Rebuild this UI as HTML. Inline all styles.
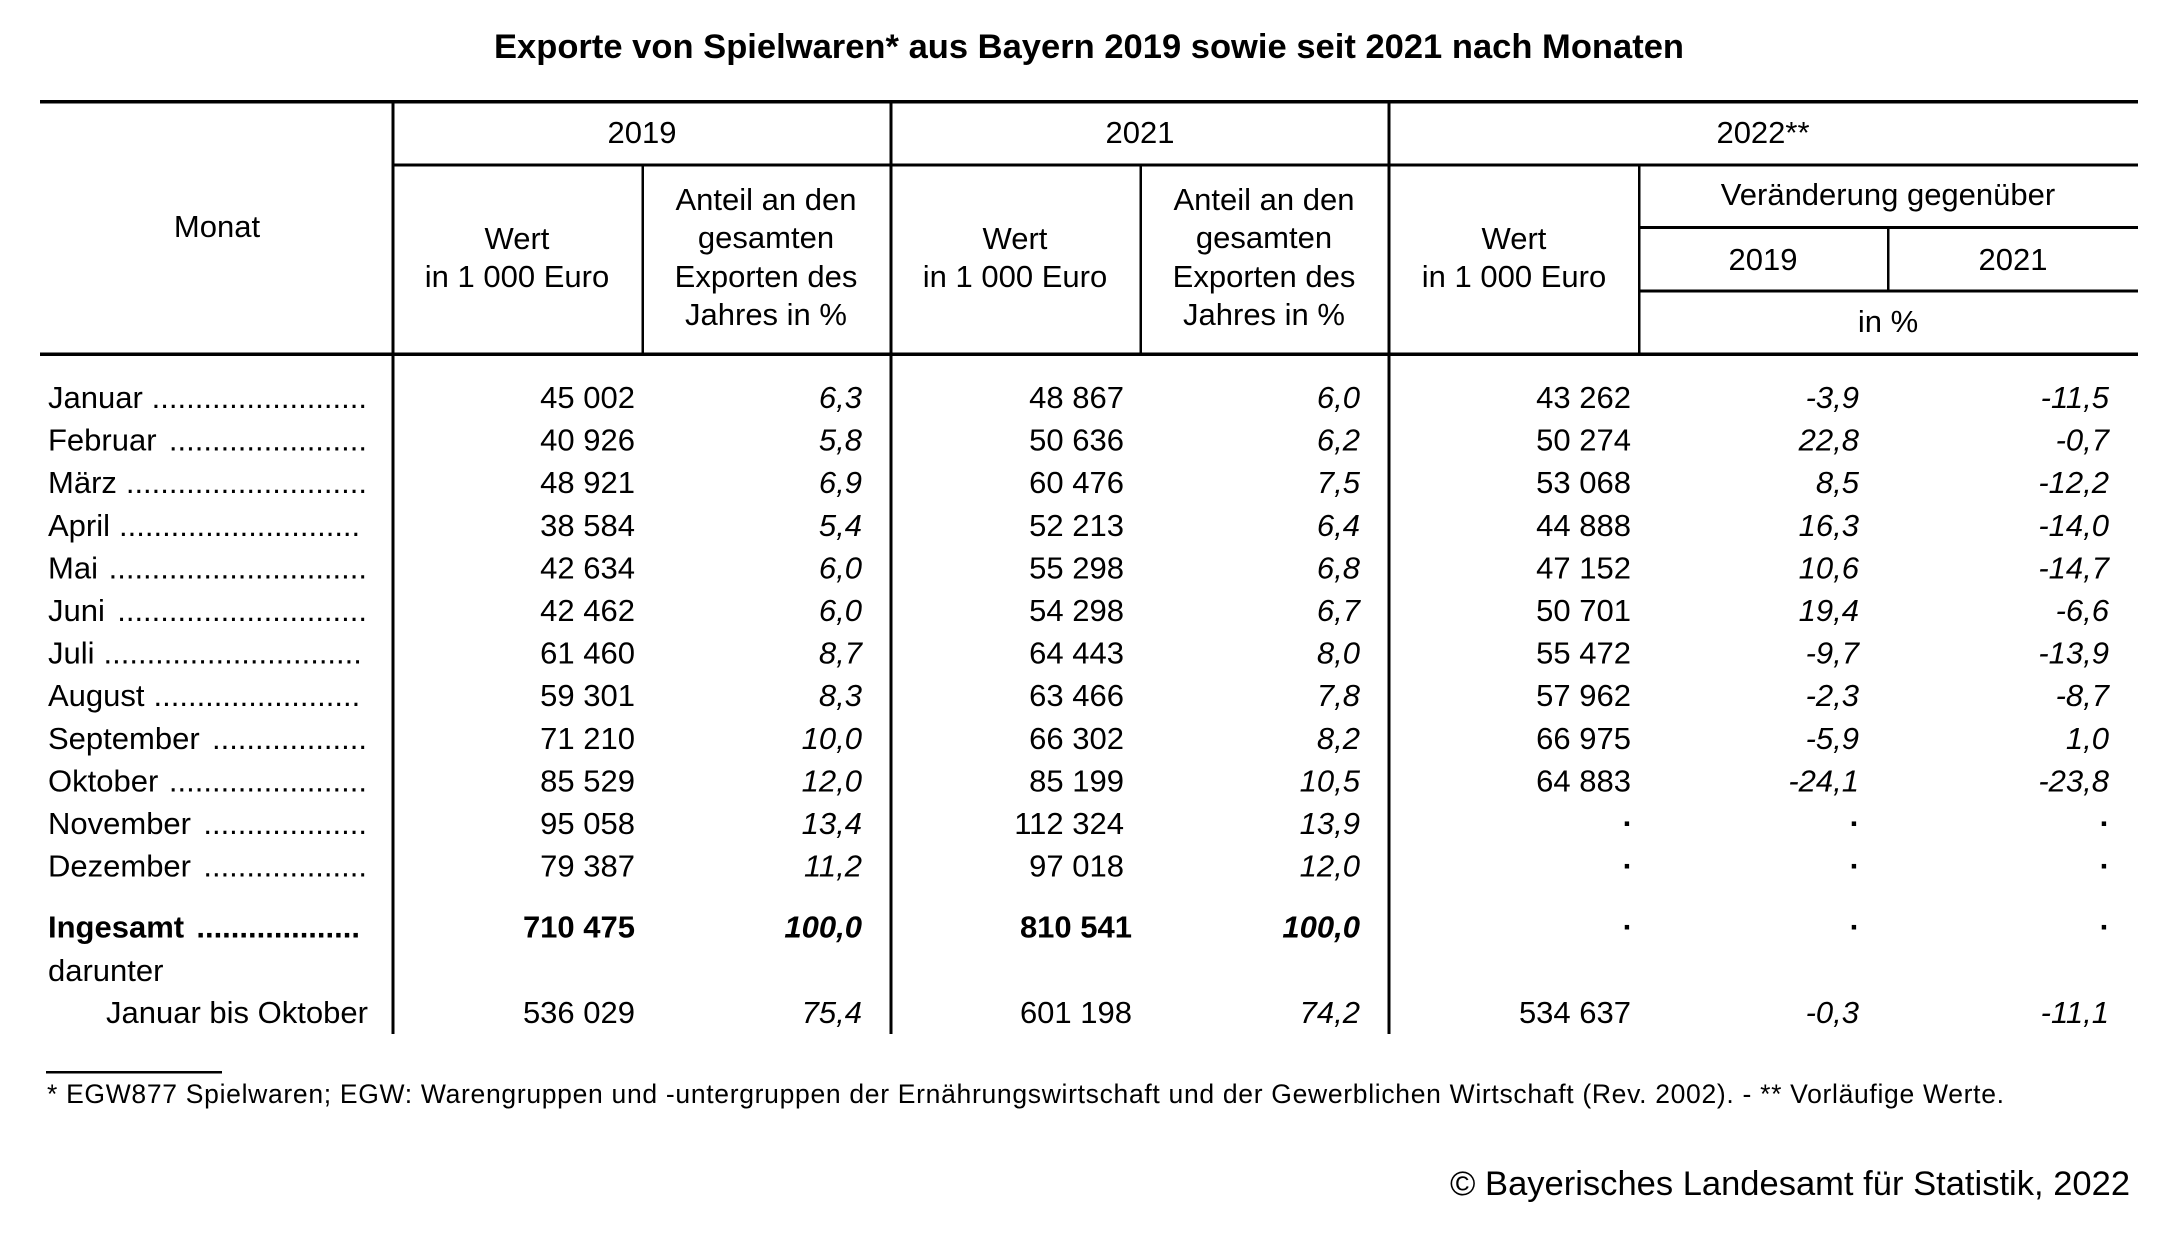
<!DOCTYPE html>
<html><head><meta charset="utf-8"><style>
html,body{margin:0;padding:0;background:#fff;}
svg{display:block;}
text{font-family:"Liberation Sans",Arial,sans-serif;font-size:31px;fill:#000;}
.c{text-anchor:middle}.r{text-anchor:end}.i{font-style:italic}.b{font-weight:bold}
.d{text-anchor:end;font-weight:bold}
</style></head><body>
<svg width="2179" height="1234" viewBox="0 0 2179 1234" xmlns="http://www.w3.org/2000/svg">
<rect width="2179" height="1234" fill="#fff"/>
<text x="1089" y="58" class="c b" style="font-size:34.5px" textLength="1190">Exporte von Spielwaren* aus Bayern 2019 sowie seit 2021 nach Monaten</text>
<g fill="#000">
<rect x="40" y="100" width="2098" height="3.5"/>
<rect x="393" y="163.5" width="1745" height="3"/>
<rect x="1639" y="226" width="499" height="3"/>
<rect x="1639" y="289.5" width="499" height="3"/>
<rect x="40" y="352.5" width="2098" height="3.5"/>
<rect x="391.5" y="101" width="3" height="933"/>
<rect x="889.5" y="101" width="3" height="933"/>
<rect x="1387.5" y="101" width="3" height="933"/>
<rect x="641.5" y="165" width="2.5" height="189"/>
<rect x="1139.5" y="165" width="2.5" height="189"/>
<rect x="1638" y="165" width="2.5" height="189"/>
<rect x="1887" y="228" width="2.5" height="63"/>
<rect x="46" y="1071" width="176" height="2.5"/>
</g>
<text x="217" y="237" class="c">Monat</text>
<text x="642" y="143" class="c">2019</text>
<text x="1140" y="143" class="c">2021</text>
<text x="1763" y="143" class="c">2022**</text>
<text x="517" y="249" class="c">Wert</text>
<text x="517" y="287" class="c">in 1 000 Euro</text>
<text x="766" y="210" class="c">Anteil an den</text>
<text x="766" y="248" class="c">gesamten</text>
<text x="766" y="287" class="c">Exporten des</text>
<text x="766" y="325" class="c">Jahres in %</text>
<text x="1015" y="249" class="c">Wert</text>
<text x="1015" y="287" class="c">in 1 000 Euro</text>
<text x="1264" y="210" class="c">Anteil an den</text>
<text x="1264" y="248" class="c">gesamten</text>
<text x="1264" y="287" class="c">Exporten des</text>
<text x="1264" y="325" class="c">Jahres in %</text>
<text x="1514" y="249" class="c">Wert</text>
<text x="1514" y="287" class="c">in 1 000 Euro</text>
<text x="1888" y="205" class="c">Veränderung gegenüber</text>
<text x="1763" y="270" class="c">2019</text>
<text x="2013" y="270" class="c">2021</text>
<text x="1888" y="332" class="c">in %</text>

<!-- Month labels -->
<text x="48" y="408">Januar</text><text x="367" y="408" class="r">.........................</text>
<text x="48" y="450.6">Februar</text><text x="367" y="450.6" class="r">.......................</text>
<text x="48" y="493.2">März</text><text x="367" y="493.2" class="r">............................</text>
<text x="48" y="535.8">April</text><text x="119" y="535.8">............................</text>
<text x="48" y="578.4">Mai</text><text x="367" y="578.4" class="r">..............................</text>
<text x="48" y="621">Juni</text><text x="367" y="621" class="r">.............................</text>
<text x="48" y="663.6">Juli</text><text x="103.5" y="663.6">..............................</text>
<text x="48" y="706.2">August</text><text x="153.5" y="706.2">........................</text>
<text x="48" y="748.8">September</text><text x="367" y="748.8" class="r">..................</text>
<text x="48" y="791.4">Oktober</text><text x="367" y="791.4" class="r">.......................</text>
<text x="48" y="834">November</text><text x="367" y="834" class="r">...................</text>
<text x="48" y="876.6">Dezember</text><text x="367" y="876.6" class="r">...................</text>
<text x="48" y="937.5" class="b">Ingesamt</text><text x="360" y="937.5" class="r b">...................</text>
<text x="48" y="981">darunter</text>
<text x="106" y="1023">Januar bis Oktober</text>

<!-- 2019 Wert -->
<text x="635" y="408" class="r">45 002</text>
<text x="635" y="450.6" class="r">40 926</text>
<text x="635" y="493.2" class="r">48 921</text>
<text x="635" y="535.8" class="r">38 584</text>
<text x="635" y="578.4" class="r">42 634</text>
<text x="635" y="621" class="r">42 462</text>
<text x="635" y="663.6" class="r">61 460</text>
<text x="635" y="706.2" class="r">59 301</text>
<text x="635" y="748.8" class="r">71 210</text>
<text x="635" y="791.4" class="r">85 529</text>
<text x="635" y="834" class="r">95 058</text>
<text x="635" y="876.6" class="r">79 387</text>
<text x="635" y="937.5" class="r b">710 475</text>
<text x="635" y="1023" class="r">536 029</text>
<!-- 2019 Anteil -->
<text x="862" y="408" class="r i">6,3</text>
<text x="862" y="450.6" class="r i">5,8</text>
<text x="862" y="493.2" class="r i">6,9</text>
<text x="862" y="535.8" class="r i">5,4</text>
<text x="862" y="578.4" class="r i">6,0</text>
<text x="862" y="621" class="r i">6,0</text>
<text x="862" y="663.6" class="r i">8,7</text>
<text x="862" y="706.2" class="r i">8,3</text>
<text x="862" y="748.8" class="r i">10,0</text>
<text x="862" y="791.4" class="r i">12,0</text>
<text x="862" y="834" class="r i">13,4</text>
<text x="862" y="876.6" class="r i">11,2</text>
<text x="862" y="937.5" class="r i b">100,0</text>
<text x="862" y="1023" class="r i">75,4</text>
<!-- 2021 Wert -->
<text x="1124" y="408" class="r">48 867</text>
<text x="1124" y="450.6" class="r">50 636</text>
<text x="1124" y="493.2" class="r">60 476</text>
<text x="1124" y="535.8" class="r">52 213</text>
<text x="1124" y="578.4" class="r">55 298</text>
<text x="1124" y="621" class="r">54 298</text>
<text x="1124" y="663.6" class="r">64 443</text>
<text x="1124" y="706.2" class="r">63 466</text>
<text x="1124" y="748.8" class="r">66 302</text>
<text x="1124" y="791.4" class="r">85 199</text>
<text x="1124" y="834" class="r">112 324</text>
<text x="1124" y="876.6" class="r">97 018</text>
<text x="1132" y="937.5" class="r b">810 541</text>
<text x="1132" y="1023" class="r">601 198</text>
<!-- 2021 Anteil -->
<text x="1360" y="408" class="r i">6,0</text>
<text x="1360" y="450.6" class="r i">6,2</text>
<text x="1360" y="493.2" class="r i">7,5</text>
<text x="1360" y="535.8" class="r i">6,4</text>
<text x="1360" y="578.4" class="r i">6,8</text>
<text x="1360" y="621" class="r i">6,7</text>
<text x="1360" y="663.6" class="r i">8,0</text>
<text x="1360" y="706.2" class="r i">7,8</text>
<text x="1360" y="748.8" class="r i">8,2</text>
<text x="1360" y="791.4" class="r i">10,5</text>
<text x="1360" y="834" class="r i">13,9</text>
<text x="1360" y="876.6" class="r i">12,0</text>
<text x="1360" y="937.5" class="r i b">100,0</text>
<text x="1360" y="1023" class="r i">74,2</text>
<!-- 2022 Wert -->
<text x="1631" y="408" class="r">43 262</text>
<text x="1631" y="450.6" class="r">50 274</text>
<text x="1631" y="493.2" class="r">53 068</text>
<text x="1631" y="535.8" class="r">44 888</text>
<text x="1631" y="578.4" class="r">47 152</text>
<text x="1631" y="621" class="r">50 701</text>
<text x="1631" y="663.6" class="r">55 472</text>
<text x="1631" y="706.2" class="r">57 962</text>
<text x="1631" y="748.8" class="r">66 975</text>
<text x="1631" y="791.4" class="r">64 883</text>
<text x="1633" y="834" class="d">·</text>
<text x="1633" y="876.6" class="d">·</text>
<text x="1633" y="937.5" class="d">·</text>
<text x="1631" y="1023" class="r">534 637</text>
<!-- Veränderung 2019 -->
<text x="1859" y="408" class="r i">-3,9</text>
<text x="1859" y="450.6" class="r i">22,8</text>
<text x="1859" y="493.2" class="r i">8,5</text>
<text x="1859" y="535.8" class="r i">16,3</text>
<text x="1859" y="578.4" class="r i">10,6</text>
<text x="1859" y="621" class="r i">19,4</text>
<text x="1859" y="663.6" class="r i">-9,7</text>
<text x="1859" y="706.2" class="r i">-2,3</text>
<text x="1859" y="748.8" class="r i">-5,9</text>
<text x="1859" y="791.4" class="r i">-24,1</text>
<text x="1860" y="834" class="d">·</text>
<text x="1860" y="876.6" class="d">·</text>
<text x="1860" y="937.5" class="d">·</text>
<text x="1859" y="1023" class="r i">-0,3</text>
<!-- Veränderung 2021 -->
<text x="2109" y="408" class="r i">-11,5</text>
<text x="2109" y="450.6" class="r i">-0,7</text>
<text x="2109" y="493.2" class="r i">-12,2</text>
<text x="2109" y="535.8" class="r i">-14,0</text>
<text x="2109" y="578.4" class="r i">-14,7</text>
<text x="2109" y="621" class="r i">-6,6</text>
<text x="2109" y="663.6" class="r i">-13,9</text>
<text x="2109" y="706.2" class="r i">-8,7</text>
<text x="2109" y="748.8" class="r i">1,0</text>
<text x="2109" y="791.4" class="r i">-23,8</text>
<text x="2110" y="834" class="d">·</text>
<text x="2110" y="876.6" class="d">·</text>
<text x="2110" y="937.5" class="d">·</text>
<text x="2109" y="1023" class="r i">-11,1</text>

<text x="47" y="1103" style="font-size:26.5px" textLength="1957">* EGW877 Spielwaren; EGW: Warengruppen und -untergruppen der Ernährungswirtschaft und der Gewerblichen Wirtschaft (Rev. 2002). - ** Vorläufige Werte.</text>
<text x="1450" y="1195" style="font-size:34.5px" textLength="680">© Bayerisches Landesamt für Statistik, 2022</text>
</svg>
</body></html>
